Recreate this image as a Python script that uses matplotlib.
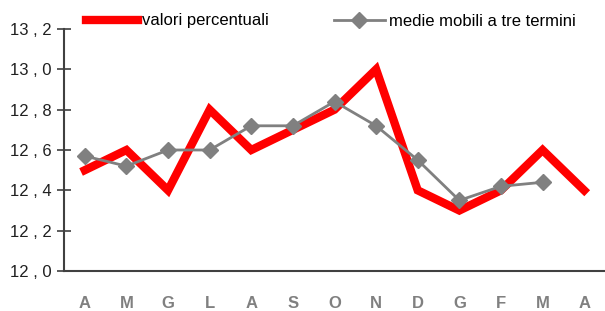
import matplotlib.pyplot as plt

mesi = ["A", "M", "G", "L", "A", "S", "O", "N", "D", "G", "F", "M", "A"]
valori = [12.5, 12.6, 12.4, 12.8, 12.6, 12.7, 12.8, 13.0, 12.4, 12.3, 12.4, 12.6, 12.4]
medie = [12.57, 12.52, 12.60, 12.60, 12.72, 12.72, 12.84, 12.72, 12.55, 12.35, 12.42, 12.44]
y_ticks = [12.0, 12.2, 12.4, 12.6, 12.8, 13.0, 13.2]

plt.rcParams['font.family'] = ['Liberation Sans', 'DejaVu Sans']

fig = plt.figure(figsize=(6.05, 3.11), dpi=100)
ax = fig.add_axes([64 / 605, 1 - 271 / 311, 1 - 64 / 605, (271 - 29) / 311])

x = list(range(len(mesi)))
ax.plot(x, valori, color="#ff0000", lw=6, solid_joinstyle="miter", label="valori percentuali")
ax.plot(x[:len(medie)], medie, color="#808080", lw=2, marker="D", ms=8,
        label="medie mobili a tre termini")

ax.set_xlim(-0.5, len(mesi) - 0.5)
ax.set_ylim(12.0, 13.2)
ax.set_yticks(y_ticks)
ax.set_yticklabels([f"{v:.1f}".replace(".", " , ") for v in y_ticks], fontsize=12, color="#202020")
ax.set_xticks(x)
ax.set_xticklabels(mesi, fontsize=12, color="#808080", fontweight="bold")

ax.tick_params(axis="y", direction="inout", length=10, width=1.2, color="#404040", pad=4)
ax.tick_params(axis="x", length=0, pad=18)
for s in ["top", "right"]:
    ax.spines[s].set_visible(False)
for s in ["left", "bottom"]:
    ax.spines[s].set_color("#404040")
    ax.spines[s].set_linewidth(1.5)

fig.legend(loc="center left", bbox_to_anchor=(86 / 605, 1 - 21 / 311), ncol=2, frameon=False,
           fontsize=12, handlelength=3.1, handletextpad=0.25, columnspacing=3.9,
           borderpad=0, borderaxespad=0)

fig.savefig("out.png", dpi=100)
